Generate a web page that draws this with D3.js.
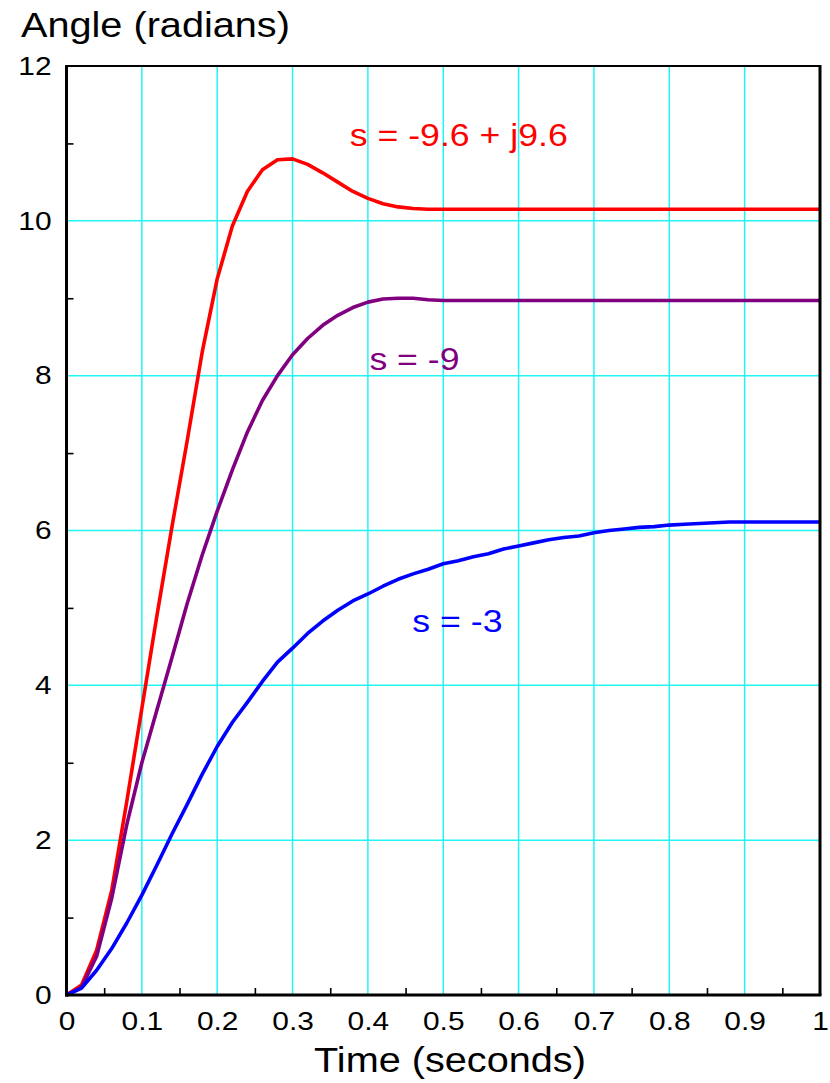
<!DOCTYPE html>
<html>
<head>
<meta charset="utf-8">
<script src="https://cdn.jsdelivr.net/npm/d3@7"></script>
<style>
  html, body { margin: 0; padding: 0; background: #fff; }
  svg { display: block; }
  text { font-family: "Liberation Sans", Arial, Helvetica, sans-serif; fill: #000; }
</style>
</head>
<body>
<svg id="chart" width="830" height="1083"></svg>
<script>
// Sample times (seconds)
const timeSec = [0, 0.02, 0.04, 0.06, 0.08, 0.10, 0.12, 0.14, 0.16, 0.18,
  0.20, 0.22, 0.24, 0.26, 0.28, 0.30, 0.32, 0.34, 0.36, 0.38,
  0.40, 0.42, 0.44, 0.46, 0.48, 0.50, 0.52, 0.54, 0.56, 0.58,
  0.60, 0.62, 0.64, 0.66, 0.68, 0.70, 0.72, 0.74, 0.76, 0.78,
  0.80, 0.82, 0.84, 0.86, 0.88, 0.90, 0.92, 0.94, 0.96, 0.98, 1.00];

// Angle response (radians) for each pole location
const angleComplex = [0, 0.13, 0.58, 1.35, 2.50, 3.70, 4.90, 6.05, 7.15, 8.30,
  9.25, 9.93, 10.38, 10.66, 10.79, 10.80, 10.73, 10.62, 10.50, 10.38,
  10.29, 10.22, 10.18, 10.16, 10.15, 10.15, 10.15, 10.15, 10.15, 10.15,
  10.15, 10.15, 10.15, 10.15, 10.15, 10.15, 10.15, 10.15, 10.15, 10.15,
  10.15, 10.15, 10.15, 10.15, 10.15, 10.15, 10.15, 10.15, 10.15, 10.15, 10.15];

const angleMinus9 = [0, 0.10, 0.50, 1.25, 2.20, 3.00, 3.68, 4.36, 5.05, 5.68,
  6.25, 6.78, 7.27, 7.68, 8.00, 8.27, 8.48, 8.65, 8.78, 8.88,
  8.95, 8.99, 9.00, 9.00, 8.98, 8.97, 8.97, 8.97, 8.97, 8.97,
  8.97, 8.97, 8.97, 8.97, 8.97, 8.97, 8.97, 8.97, 8.97, 8.97,
  8.97, 8.97, 8.97, 8.97, 8.97, 8.97, 8.97, 8.97, 8.97, 8.97, 8.97];

const angleMinus3 = [0, 0.09, 0.32, 0.60, 0.93, 1.29, 1.68, 2.08, 2.46, 2.85,
  3.21, 3.52, 3.78, 4.05, 4.30, 4.48, 4.67, 4.83, 4.97, 5.09,
  5.18, 5.28, 5.37, 5.44, 5.50, 5.57, 5.61, 5.66, 5.70, 5.76,
  5.80, 5.84, 5.88, 5.91, 5.93, 5.97, 6.00, 6.02, 6.04, 6.05,
  6.07, 6.08, 6.09, 6.10, 6.11, 6.11, 6.11, 6.11, 6.11, 6.11, 6.11];

const seriesLabels = ["s = -9.6 + j9.6", "s = -9", "s = -3"];
const seriesColors = ["#ff0000", "#800080", "#0000ff"];

// Axis ticks
const xTickValues = [0, 0.1, 0.2, 0.3, 0.4, 0.5, 0.6, 0.7, 0.8, 0.9, 1];
const xTickLabels = ["0", "0.1", "0.2", "0.3", "0.4", "0.5", "0.6", "0.7", "0.8", "0.9", "1"];
const xMinorTicks = [0.05, 0.15, 0.25, 0.35, 0.45, 0.55, 0.65, 0.75, 0.85, 0.95];
const yTickValues = [0, 2, 4, 6, 8, 10, 12];
const yTickLabels = ["0", "2", "4", "6", "8", "10", "12"];
const yMinorTicks = [1, 3, 5, 7, 9, 11];
const xGrid = [0.1, 0.2, 0.3, 0.4, 0.5, 0.6, 0.7, 0.8, 0.9];
const yGrid = [2, 4, 6, 8, 10];

const svg = d3.select("#chart");
const plotLeft = 66.5, plotRight = 820, plotTop = 66, plotBottom = 995;
const stretch = "scale(1.15,1)";

const x = d3.scaleLinear().domain([0, 1]).range([plotLeft, plotRight]);
const y = d3.scaleLinear().domain([0, 12]).range([plotBottom, plotTop]);

// Grid
const grid = svg.append("g").attr("stroke", "#22f4f4").attr("stroke-width", 1.5);
grid.selectAll(".gx").data(xGrid).join("line")
  .attr("x1", d => x(d)).attr("x2", d => x(d))
  .attr("y1", plotTop).attr("y2", plotBottom);
grid.selectAll(".gy").data(yGrid).join("line")
  .attr("x1", plotLeft).attr("x2", plotRight)
  .attr("y1", d => y(d)).attr("y2", d => y(d));

// Curves
const series = [angleComplex, angleMinus9, angleMinus3];
const line = d3.line()
  .x((d, i) => x(timeSec[i]))
  .y(d => y(d));
svg.append("g").selectAll("path").data(series).join("path")
  .attr("d", d => line(d))
  .attr("fill", "none")
  .attr("stroke", (d, i) => seriesColors[i])
  .attr("stroke-width", 3.6)
  .attr("stroke-linejoin", "round");

// Frame
const frame = svg.append("g").attr("stroke", "#000");
frame.append("line").attr("x1", plotLeft).attr("x2", plotRight).attr("y1", plotTop).attr("y2", plotTop).attr("stroke-width", 2.2);
frame.append("line").attr("x1", plotRight).attr("x2", plotRight).attr("y1", plotTop - 1).attr("y2", plotBottom).attr("stroke-width", 3);
frame.append("line").attr("x1", plotLeft).attr("x2", plotLeft).attr("y1", plotTop - 1).attr("y2", plotBottom + 1.5).attr("stroke-width", 3);
frame.append("line").attr("x1", plotLeft - 1.5).attr("x2", plotRight + 1.5).attr("y1", plotBottom).attr("y2", plotBottom).attr("stroke-width", 3);

// Minor ticks (inside the frame)
const xMinor = svg.append("g").attr("transform", `translate(0,${plotBottom})`)
  .call(d3.axisTop(x).tickValues(xMinorTicks).tickSize(7).tickFormat(""));
xMinor.select(".domain").remove();
xMinor.selectAll("line").attr("stroke", "#000").attr("stroke-width", 1.6);

const yMinor = svg.append("g").attr("transform", `translate(${plotLeft},0)`)
  .call(d3.axisRight(y).tickValues(yMinorTicks).tickSize(7).tickFormat(""));
yMinor.select(".domain").remove();
yMinor.selectAll("line").attr("stroke", "#000").attr("stroke-width", 1.6);

// Tick labels
const xAxis = svg.append("g").attr("transform", `translate(0,${plotBottom})`)
  .call(d3.axisBottom(x).tickValues(xTickValues).tickSize(0).tickPadding(17)
    .tickFormat((d, i) => xTickLabels[i]));
xAxis.select(".domain").remove();
xAxis.selectAll("text")
  .attr("font-size", 26).attr("fill", "#000")
  .style("font-family", '"Liberation Sans", Arial, sans-serif')
  .attr("transform", stretch);

const yAxis = svg.append("g").attr("transform", `translate(${plotLeft},0)`)
  .call(d3.axisLeft(y).tickValues(yTickValues).tickSize(0).tickPadding(13)
    .tickFormat((d, i) => yTickLabels[i]));
yAxis.select(".domain").remove();
yAxis.selectAll("text")
  .attr("font-size", 26).attr("fill", "#000")
  .style("font-family", '"Liberation Sans", Arial, sans-serif')
  .attr("transform", stretch);

// Axis titles
svg.append("text")
  .attr("transform", `translate(21,37) ${stretch}`)
  .attr("font-size", 34.5)
  .text("Angle (radians)");
svg.append("text")
  .attr("transform", `translate(450,1072) ${stretch}`)
  .attr("text-anchor", "middle")
  .attr("font-size", 34.5)
  .text("Time (seconds)");

// Series labels, placed next to each curve
const labelPos = [
  { t: 0.376, v: 10.97 },
  { t: 0.402, v: 8.07 },
  { t: 0.459, v: 4.69 }
];
svg.append("g").selectAll("text").data(seriesLabels).join("text")
  .attr("transform", (d, i) => `translate(${x(labelPos[i].t)},${y(labelPos[i].v)}) ${stretch}`)
  .attr("font-size", 31)
  .style("fill", (d, i) => seriesColors[i])
  .text(d => d);
</script>
</body>
</html>
